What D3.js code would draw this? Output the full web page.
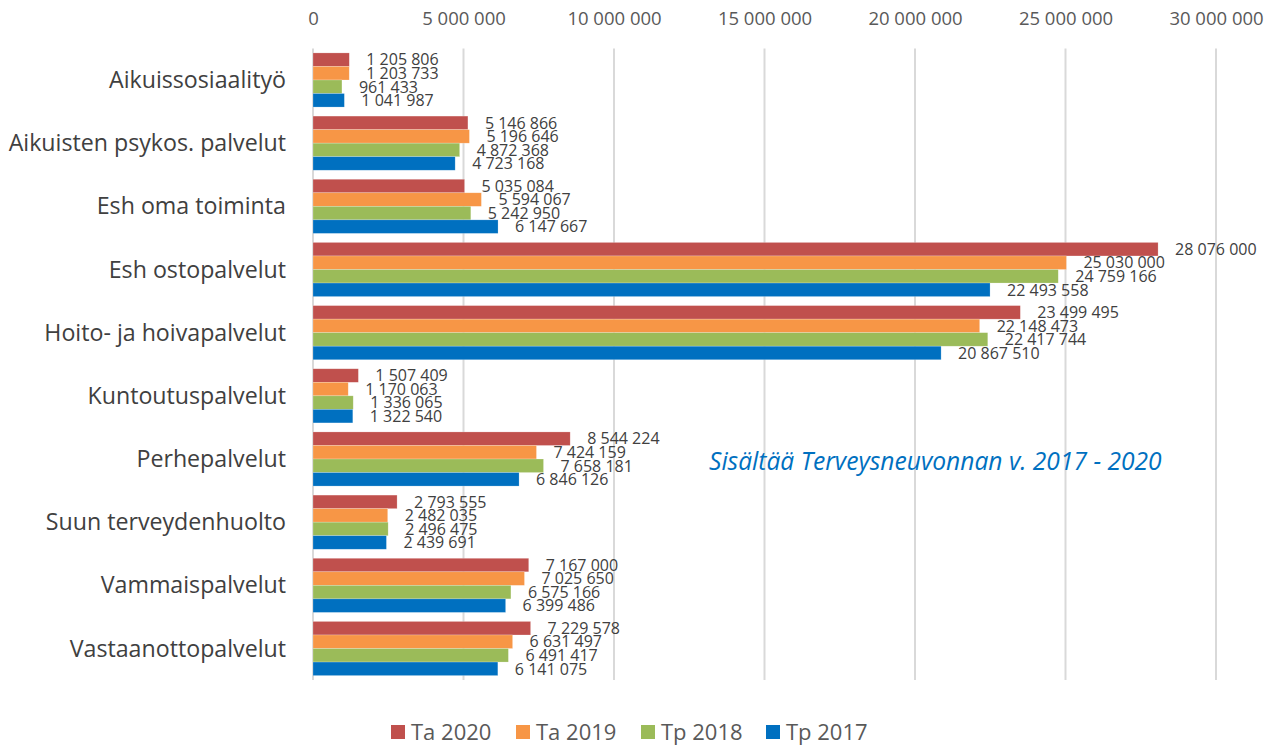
<!DOCTYPE html>
<html>
<head>
<meta charset="utf-8">
<script src="https://cdn.jsdelivr.net/npm/d3@7"></script>
<style>
  body { margin: 0; background: #fff; }
  svg { display: block; font-family: "Open Sans", sans-serif; }
</style>
</head>
<body>
<svg id="chart" width="1277" height="745"></svg>
<script>
const categories = [
  "Aikuissosiaalityö",
  "Aikuisten psykos. palvelut",
  "Esh oma toiminta",
  "Esh ostopalvelut",
  "Hoito- ja hoivapalvelut",
  "Kuntoutuspalvelut",
  "Perhepalvelut",
  "Suun terveydenhuolto",
  "Vammaispalvelut",
  "Vastaanottopalvelut"
];
const seriesNames = ["Ta 2020", "Ta 2019", "Tp 2018", "Tp 2017"];
const ta2020 = [1205806, 5146866, 5035084, 28076000, 23499495, 1507409, 8544224, 2793555, 7167000, 7229578];
const ta2019 = [1203733, 5196646, 5594067, 25030000, 22148473, 1170063, 7424159, 2482035, 7025650, 6631497];
const tp2018 = [961433, 4872368, 5242950, 24759166, 22417744, 1336065, 7658181, 2496475, 6575166, 6491417];
const tp2017 = [1041987, 4723168, 6147667, 22493558, 20867510, 1322540, 6846126, 2439691, 6399486, 6141075];
const tickValues = [0, 5000000, 10000000, 15000000, 20000000, 25000000, 30000000];
const colors = ["#c0504d", "#f79646", "#9bbb59", "#0070c0"];
const note = "Sisältää Terveysneuvonnan v. 2017 - 2020";

const seriesValues = [ta2020, ta2019, tp2018, tp2017];
const fmt = v => d3.format(",")(v).replace(/,/g, " ");

const svg = d3.select("#chart");
const margin = { left: 313, right: 61, top: 48.5, bottom: 65 };
const W = 1277, H = 745;

const x = d3.scaleLinear().domain([0, 30000000]).range([margin.left, W - margin.right]);
const y = d3.scaleBand().domain(categories).range([margin.top, H - margin.bottom]).paddingInner(0.143).paddingOuter(0.07);
const ySub = d3.scaleBand().domain(seriesNames).range([0, y.bandwidth()]);

// vertical gridlines
svg.append("g")
  .selectAll("line")
  .data(tickValues)
  .join("line")
  .attr("x1", d => x(d)).attr("x2", d => x(d))
  .attr("y1", margin.top).attr("y2", H - margin.bottom)
  .attr("stroke", "#d9d9d9").attr("stroke-width", 2);

// top axis labels
const axis = svg.append("g")
  .attr("transform", `translate(0, ${margin.top - 21})`)
  .call(d3.axisTop(x).tickValues(tickValues).tickFormat(fmt).tickSize(0));
axis.select(".domain").remove();
axis.selectAll("text")
  .attr("fill", "#595959").attr("font-size", 18.5).attr("font-family", "'Open Sans', sans-serif");

// category labels
svg.append("g")
  .selectAll("text")
  .data(categories)
  .join("text")
  .attr("x", 286)
  .attr("y", d => y(d) + y.bandwidth() / 2)
  .attr("dy", "0.35em")
  .attr("text-anchor", "end")
  .attr("fill", "#404040")
  .attr("font-size", 23.2)
  .text(d => d);

// bars
const groups = svg.append("g")
  .selectAll("g")
  .data(categories)
  .join("g")
  .attr("transform", d => `translate(0, ${y(d)})`);

const cells = groups.selectAll("g.cell")
  .data((d, i) => seriesNames.map((s, j) => ({ s, j, v: seriesValues[j][i] })))
  .join("g").attr("class", "cell");

cells.append("rect")
  .attr("x", x(0))
  .attr("y", d => ySub(d.s))
  .attr("width", d => x(d.v) - x(0))
  .attr("height", ySub.bandwidth())
  .attr("fill", d => colors[d.j])
  .attr("stroke", "rgba(255,255,255,0.35)")
  .attr("stroke-width", 0.6);

cells.append("text")
  .attr("x", d => x(d.v) + 17)
  .attr("y", d => ySub(d.s) + ySub.bandwidth() / 2)
  .attr("dy", "0.36em")
  .attr("fill", "#404040")
  .attr("font-size", 16)
  .text(d => fmt(d.v));

// annotation
svg.append("text")
  .attr("x", 709).attr("y", 470)
  .attr("fill", "#0070c0")
  .attr("font-size", 24.6)
  .attr("font-style", "italic")
  .text(note);

// legend
const leg = svg.append("g").attr("transform", "translate(0, 732)");
const legItems = leg.selectAll("g")
  .data(seriesNames)
  .join("g")
  .attr("transform", (d, i) => `translate(${391 + i * 125}, 0)`);
legItems.append("rect")
  .attr("x", 0).attr("y", -7).attr("width", 14).attr("height", 14)
  .attr("fill", (d, i) => colors[i]);
legItems.append("text")
  .attr("x", 20).attr("y", 0).attr("dy", "0.36em")
  .attr("fill", "#595959")
  .attr("font-size", 22)
  .text(d => d);
</script>
</body>
</html>
